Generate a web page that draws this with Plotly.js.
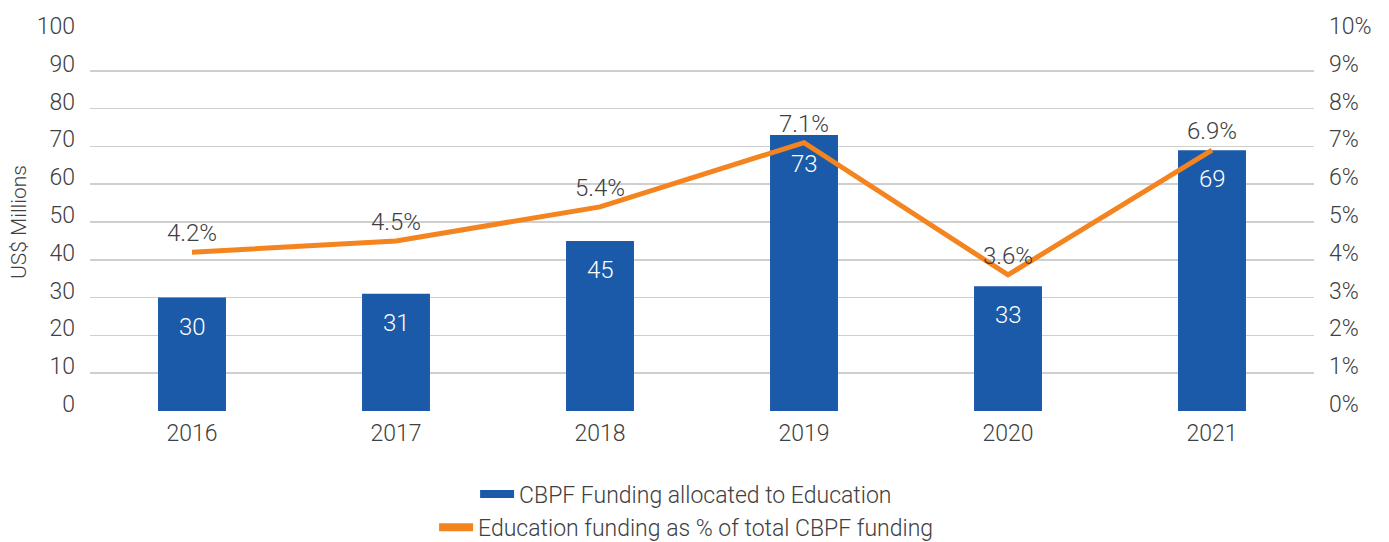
<!DOCTYPE html>
<html>
<head>
<meta charset="utf-8">
<script src="https://cdn.plot.ly/plotly-3.0.1.min.js"></script>
<style>html,body{margin:0;padding:0;background:#fff;}#chart{width:1389px;height:542px;}</style>
</head>
<body>
<div id="chart"></div>
<script>
const years = ['2016', '2017', '2018', '2019', '2020', '2021'];
const funding = [30, 31, 45, 73, 33, 69];
const sharePct = [0.042, 0.045, 0.054, 0.071, 0.036, 0.069];
const shareLabels = ['4.2%', '4.5%', '5.4%', '7.1%', '3.6%', '6.9%'];
const fundingName = 'CBPF Funding allocated to Education';
const shareName = 'Education funding as % of total CBPF funding';

const FONT = 'Roboto, "Liberation Sans", Arial, sans-serif';
const TXT = '#404040';
const BLUE = '#1A5AA9';
const ORANGE = '#F4841F';
const FS = 23;

const traces = [
  {
    type: 'bar', x: years, y: funding, name: fundingName,
    marker: {color: BLUE}, width: 0.333, showlegend: false, hoverinfo: 'skip'
  },
  {
    type: 'scatter', mode: 'lines', x: years, y: sharePct, yaxis: 'y2', name: shareName,
    line: {color: ORANGE, width: 5}, showlegend: false, hoverinfo: 'skip'
  },
  // legend-only entries (no data points) to get the wide flat legend keys
  {
    type: 'scatter', mode: 'lines', x: [null], y: [null], name: fundingName,
    line: {color: BLUE, width: 8}, legend: 'legend', hoverinfo: 'skip'
  },
  {
    type: 'scatter', mode: 'lines', x: [null], y: [null], yaxis: 'y2', name: shareName,
    line: {color: ORANGE, width: 8}, legend: 'legend2', hoverinfo: 'skip'
  }
];

const annotations = [];
years.forEach((yr, i) => {
  annotations.push({x: i, y: funding[i], xref: 'x', yref: 'y', text: String(funding[i]),
    showarrow: false, yshift: -29, font: {family: FONT, size: 24, color: '#ffffff', weight: 300}});
  annotations.push({x: i, y: sharePct[i], xref: 'x', yref: 'y2', text: shareLabels[i],
    showarrow: false, yshift: 19, font: {family: FONT, size: 24, color: TXT, weight: 300}});
});

const layout = {
  width: 1389, height: 542,
  margin: {l: 90, r: 75, t: 33, b: 131, autoexpand: false},
  paper_bgcolor: '#fff', plot_bgcolor: '#fff',
  font: {family: FONT, size: FS, color: TXT, weight: 300},
  showlegend: true,
  xaxis: {
    type: 'category', range: [-0.5, 5.5], autorange: false, showgrid: false, zeroline: false, showline: false,
    ticks: '', ticklabelstandoff: 6, tickfont: {size: FS, color: TXT, weight: 300}
  },
  yaxis: {
    range: [0, 100], autorange: false, dtick: 10, showgrid: true, gridcolor: '#CFCFCF', gridwidth: 1.5,
    zeroline: false, showline: false, ticks: '', ticklabelstandoff: 14, ticklabelshift: -7,
    tickfont: {size: FS, color: TXT, weight: 300},
    title: {text: 'US$ Millions', standoff: 4, font: {size: 21, color: TXT, weight: 300}}
  },
  yaxis2: {
    range: [0, 0.10], autorange: false, dtick: 0.01, tickformat: '.0%', overlaying: 'y', side: 'right',
    showgrid: false, zeroline: false, showline: false, ticks: '', ticklabelstandoff: 14, ticklabelshift: -7,
    tickfont: {size: FS, color: TXT, weight: 300}
  },
  legend: {orientation: 'h', x: 0.487, xanchor: 'center', yref: 'container', y: 0.0886, yanchor: 'middle',
    itemwidth: 34, font: {size: FS, color: TXT, weight: 300}, bgcolor: 'rgba(0,0,0,0)'},
  legend2: {orientation: 'h', x: 0.487, xanchor: 'center', yref: 'container', y: 0.027, yanchor: 'middle',
    itemwidth: 34, font: {size: FS, color: TXT, weight: 300}, bgcolor: 'rgba(0,0,0,0)'},
  annotations: annotations
};

Plotly.newPlot('chart', traces, layout, {displayModeBar: false, staticPlot: true});
</script>
</body>
</html>
